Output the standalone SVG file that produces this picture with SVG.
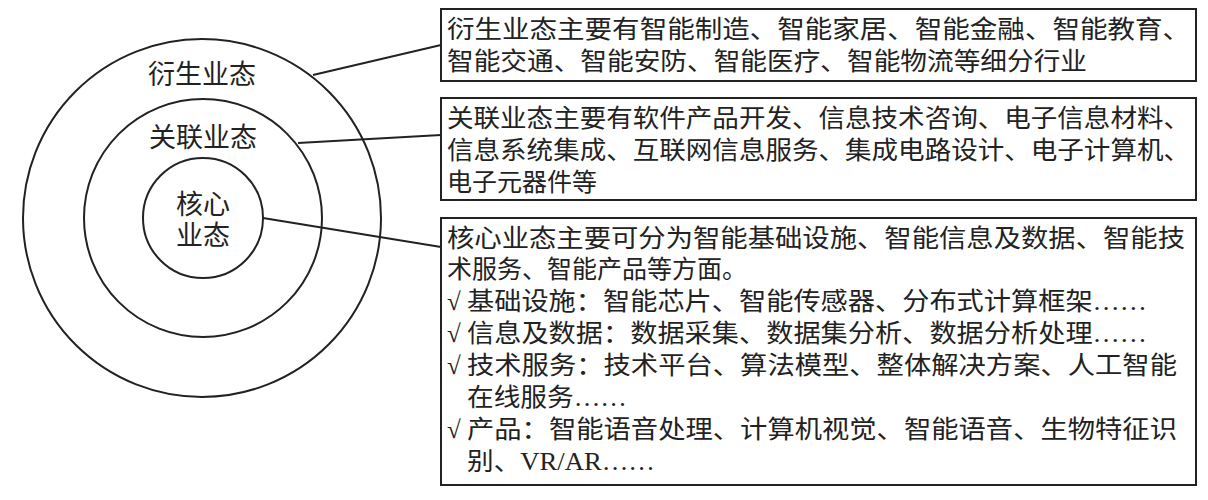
<svg xmlns="http://www.w3.org/2000/svg" width="1208" height="500" viewBox="0 0 1208 500">
<style>
.c{fill:none;stroke:#222;stroke-width:2}
.b{fill:#fff;stroke:#222;stroke-width:2}
.l{stroke:#222;stroke-width:2;fill:none}
text{font-family:"Liberation Serif","Noto Sans CJK SC",serif;font-size:25px;fill:#222}
.m{text-anchor:middle;font-size:27px}
</style>
<rect width="1208" height="500" fill="#fff"/>
<g id="outer"><circle class="c" cx="202" cy="218" r="179"/><text class="m" x="202" y="84">衍生业态</text></g>
<g id="middle"><circle class="c" cx="203" cy="218" r="119"/><text class="m" x="203" y="147">关联业态</text></g>
<g id="inner"><circle class="c" cx="203" cy="218" r="60"/><text class="m" x="203" y="214">核心</text><text class="m" x="203" y="245">业态</text></g>
<g id="connectors">
<line class="l" x1="313" y1="75" x2="441" y2="45"/>
<line class="l" x1="298" y1="143" x2="441" y2="135"/>
<line class="l" x1="263" y1="218" x2="441" y2="247"/>
</g>
<g id="box1"><rect class="b" x="441" y="9" width="755" height="72"/>
<text x="447" y="38" textLength="743" lengthAdjust="spacingAndGlyphs">衍生业态主要有智能制造、智能家居、智能金融、智能教育、</text>
<text x="447" y="70" textLength="640" lengthAdjust="spacingAndGlyphs">智能交通、智能安防、智能医疗、智能物流等细分行业</text></g>
<g id="box2"><rect class="b" x="441" y="98" width="755" height="102"/>
<text x="447" y="127" textLength="743" lengthAdjust="spacingAndGlyphs">关联业态主要有软件产品开发、信息技术咨询、电子信息材料、</text>
<text x="447" y="159" textLength="743" lengthAdjust="spacingAndGlyphs">信息系统集成、互联网信息服务、集成电路设计、电子计算机、</text>
<text x="447" y="191">电子元器件等</text></g>
<g id="box3"><rect class="b" x="441" y="218" width="755" height="267"/>
<text x="447" y="247" textLength="738" lengthAdjust="spacingAndGlyphs">核心业态主要可分为智能基础设施、智能信息及数据、智能技</text>
<text x="447" y="278">术服务、智能产品等方面。</text>
<text x="447" y="310">√</text><text x="467" y="310" textLength="680" lengthAdjust="spacingAndGlyphs">基础设施：智能芯片、智能传感器、分布式计算框架……</text>
<text x="447" y="342">√</text><text x="467" y="342" textLength="680" lengthAdjust="spacingAndGlyphs">信息及数据：数据采集、数据集分析、数据分析处理……</text>
<text x="447" y="374">√</text><text x="467" y="374" textLength="710" lengthAdjust="spacingAndGlyphs">技术服务：技术平台、算法模型、整体解决方案、人工智能</text>
<text x="467" y="406" textLength="160" lengthAdjust="spacingAndGlyphs">在线服务……</text>
<text x="447" y="438">√</text><text x="467" y="438" textLength="710" lengthAdjust="spacingAndGlyphs">产品：智能语音处理、计算机视觉、智能语音、生物特征识</text>
<text x="467" y="470" textLength="188" lengthAdjust="spacingAndGlyphs">别、VR/AR……</text></g>
</svg>
